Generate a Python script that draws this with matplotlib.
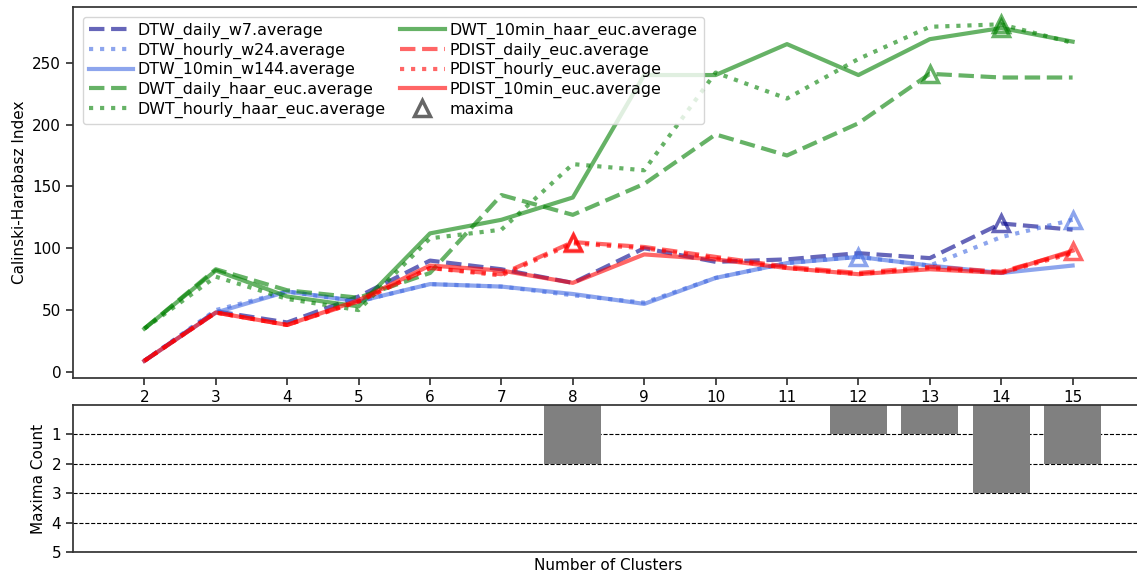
import matplotlib.pyplot as plt
import numpy as np

clusters = list(range(2, 16))

dtw_daily_w7 = [9, 49, 40, 61, 90, 83, 72, 100, 89, 91, 96, 92, 120, 115]
dtw_hourly_w24 = [9, 50, 65, 57, 71, 69, 62, 56, 76, 88, 93, 86, 109, 123]
dtw_10min_w144 = [9, 48, 65, 57, 71, 69, 63, 55, 76, 88, 93, 86, 80, 86]
dwt_daily = [35, 83, 66, 60, 80, 143, 127, 152, 192, 175, 201, 241, 238, 238]
dwt_hourly = [35, 77, 59, 50, 108, 115, 168, 163, 242, 221, 253, 279, 281, 266]
dwt_10min = [35, 82, 61, 53, 112, 123, 141, 240, 240, 265, 240, 269, 278, 267]
pdist_daily = [9, 48, 38, 57, 84, 79, 105, 101, 93, 85, 80, 85, 81, 97]
pdist_hourly = [9, 48, 38, 57, 84, 78, 104, 100, 92, 84, 79, 84, 80, 96]
pdist_10min = [9, 48, 38, 58, 86, 82, 72, 95, 91, 84, 79, 83, 80, 98]

labels = ["DTW_daily_w7.average", "DTW_hourly_w24.average", "DTW_10min_w144.average",
          "DWT_daily_haar_euc.average", "DWT_hourly_haar_euc.average", "DWT_10min_haar_euc.average",
          "PDIST_daily_euc.average", "PDIST_hourly_euc.average", "PDIST_10min_euc.average"]
values = [dtw_daily_w7, dtw_hourly_w24, dtw_10min_w144, dwt_daily, dwt_hourly, dwt_10min,
          pdist_daily, pdist_hourly, pdist_10min]
colors = ["darkblue", "royalblue", "royalblue", "green", "green", "green", "red", "red", "red"]
styles = ["--", ":", "-", "--", ":", "-", "--", ":", "-"]

W, H = 1137, 575
fig = plt.figure(figsize=(W / 100, H / 100), dpi=100)
ax1 = fig.add_axes([73 / W, (H - 378) / H, (1144 - 73) / W, (378 - 7) / H])
ax2 = fig.add_axes([73 / W, (H - 552) / H, (1144 - 73) / W, (552 - 405) / H], sharex=ax1)

spine_col = "#333333"
for ax in (ax1, ax2):
    for s in ax.spines.values():
        s.set_color(spine_col)
        s.set_linewidth(1.25)
    ax.tick_params(colors=spine_col, labelcolor="black", labelsize=11, width=1.25, length=5)

maxima_x = []
for lab, vals, col, ls in zip(labels, values, colors, styles):
    ax1.plot(clusters, vals, linestyle=ls, color=col, alpha=0.6, linewidth=3, label=lab)
    i = int(np.argmax(vals))
    maxima_x.append(clusters[i])
    ax1.plot(clusters[i], vals[i], marker="^", markersize=11, markerfacecolor="none",
             markeredgecolor=col, markeredgewidth=2.5, alpha=0.6, linestyle="none")

ax1.plot([], [], marker="^", markersize=11, markerfacecolor="none", markeredgecolor="black",
         markeredgewidth=2.5, alpha=0.6, linestyle="none", label="maxima")

ax1.set_xlim(1, 16)
ax1.set_ylim(-4.9, 295)
ax1.set_xticks(clusters)
ax1.set_yticks([0, 50, 100, 150, 200, 250])
ax1.set_ylabel("Calinski-Harabasz Index", fontsize=11)
ax1.legend(loc="upper left", ncol=2, fontsize=11.4, handlelength=2.8, handletextpad=0.3,
           columnspacing=0.9, labelspacing=0.22, borderaxespad=0.6)

counts = [maxima_x.count(c) for c in clusters]
ax2.bar(clusters, counts, width=0.8, color="gray", zorder=2)
ax2.set_ylim(5, 0)
ax2.set_yticks([1, 2, 3, 4, 5])
ax2.grid(axis="y", color="black", linestyle="--", linewidth=0.8, zorder=0)
ax2.tick_params(axis="x", bottom=False, labelbottom=False)
ax2.set_ylabel("Maxima Count", fontsize=11)
ax2.set_xlabel("Number of Clusters", fontsize=11)

fig.savefig("out.png", dpi=100)
